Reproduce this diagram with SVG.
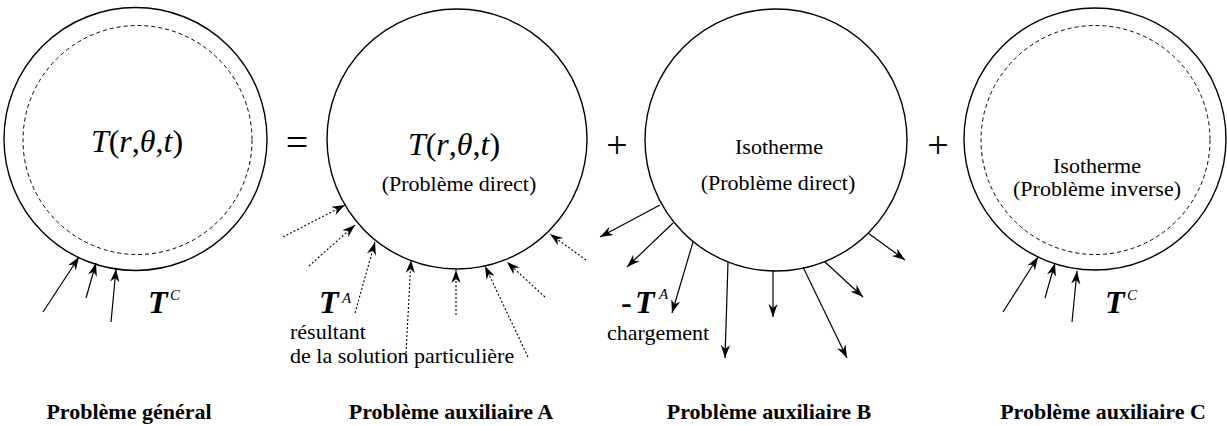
<svg xmlns="http://www.w3.org/2000/svg" width="1227" height="426" viewBox="0 0 1227 426" font-family="Liberation Serif, Times New Roman, serif">
<style>
text{fill:#000}
.outer{fill:none;stroke:#000;stroke-width:1.4}
.inner{fill:none;stroke:#000;stroke-width:1;stroke-dasharray:4 3}
.sol{stroke:#000;stroke-width:1.2;fill:none;marker-end:url(#ah)}
.dot{stroke:#000;stroke-width:1.1;fill:none;stroke-dasharray:2 2;marker-end:url(#ah)}
.lbl{font-size:22px}
.big{font-size:32px}
.bt{font-size:32px;font-weight:bold;font-style:italic}
.sup{font-size:15px;font-style:italic}
.cap{font-size:22px;font-weight:bold}
.i{font-style:italic}
</style>
<defs>
<marker id="ah" viewBox="-14 -6 15 12" refX="0" refY="0" markerWidth="15" markerHeight="12" markerUnits="userSpaceOnUse" orient="auto">
<path d="M0,0 L-13,-4.6 L-9,0 L-13,4.6 Z" fill="#000" stroke="none"/>
</marker>
</defs>

<g id="general">
<circle class="outer" cx="135.5" cy="139" r="131.5"/>
<circle class="inner" cx="137.5" cy="140" r="114.5"/>
<text class="big" x="137" y="152" text-anchor="middle"><tspan class="i">T</tspan>(<tspan class="i">r</tspan>,<tspan class="i">θ</tspan>,<tspan class="i">t</tspan>)</text>
<text class="bt" x="148" y="313">T</text>
<text class="sup" x="170" y="300">C</text>
<text class="cap" x="129" y="419" text-anchor="middle">Problème général</text>
</g>

<g id="eq">
<text x="297" y="156" font-size="40" text-anchor="middle">=</text>
</g>

<g id="auxA">
<circle class="outer" cx="457" cy="139" r="130"/>
<text class="big" x="454" y="155" text-anchor="middle"><tspan class="i">T</tspan>(<tspan class="i">r</tspan>,<tspan class="i">θ</tspan>,<tspan class="i">t</tspan>)</text>
<text class="lbl" x="459" y="191" text-anchor="middle">(Problème direct)</text>
<text class="bt" x="319" y="313">T</text>
<text class="sup" x="342" y="303">A</text>
<text class="lbl" x="290" y="339">résultant</text>
<text class="lbl" x="290" y="363">de la solution particulière</text>
<text class="cap" x="451" y="419" text-anchor="middle">Problème auxiliaire A</text>
</g>

<g id="plus1">
<text x="617" y="158" font-size="38" text-anchor="middle">+</text>
</g>

<g id="auxB">
<circle class="outer" cx="776" cy="140" r="131"/>
<text class="lbl" x="779" y="154" text-anchor="middle">Isotherme</text>
<text class="lbl" x="778" y="190" text-anchor="middle">(Problème direct)</text>
<text x="621" y="313" font-size="32" font-weight="bold">-</text>
<text class="bt" x="635" y="313">T</text>
<text class="sup" x="659" y="299">A</text>
<text class="lbl" x="607" y="340">chargement</text>
<text class="cap" x="769" y="419" text-anchor="middle">Problème auxiliaire B</text>
</g>

<g id="plus2">
<text x="938" y="158" font-size="38" text-anchor="middle">+</text>
</g>

<g id="auxC">
<circle class="outer" cx="1095" cy="139" r="131"/>
<circle class="inner" cx="1095.5" cy="140" r="114.5"/>
<text class="lbl" x="1097" y="173" text-anchor="middle">Isotherme</text>
<text class="lbl" x="1097" y="196" text-anchor="middle">(Problème inverse)</text>
<text class="bt" x="1105" y="313">T</text>
<text class="sup" x="1127" y="300">C</text>
<text class="cap" x="1103" y="419" text-anchor="middle">Problème auxiliaire C</text>
</g>

<g id="connectors">
<line class="sol" x1="43" y1="312" x2="79" y2="257"/>
<line class="sol" x1="86" y1="298" x2="96" y2="263"/>
<line class="sol" x1="111" y1="322" x2="116" y2="269"/>

<line class="dot" x1="283" y1="237" x2="345" y2="205"/>
<line class="dot" x1="309" y1="266" x2="355" y2="225"/>
<line class="dot" x1="355" y1="313" x2="375" y2="242"/>
<line class="dot" x1="406" y1="353" x2="411" y2="260"/>
<line class="dot" x1="456" y1="315" x2="456" y2="270"/>
<line class="dot" x1="528" y1="357" x2="485" y2="266"/>
<line class="dot" x1="545" y1="297" x2="507" y2="262"/>
<line class="dot" x1="586" y1="260" x2="550" y2="234"/>

<line class="sol" x1="660" y1="205" x2="600" y2="237"/>
<line class="sol" x1="673" y1="223" x2="627" y2="267"/>
<line class="sol" x1="693" y1="242" x2="672" y2="313"/>
<line class="sol" x1="728" y1="262" x2="725" y2="358"/>
<line class="sol" x1="773" y1="271" x2="773" y2="317"/>
<line class="sol" x1="803" y1="267" x2="847" y2="358"/>
<line class="sol" x1="825" y1="262" x2="863" y2="297"/>
<line class="sol" x1="868" y1="233" x2="905" y2="260"/>

<line class="sol" x1="1003" y1="312" x2="1038" y2="257"/>
<line class="sol" x1="1045" y1="298" x2="1055" y2="263"/>
<line class="sol" x1="1072" y1="322" x2="1077" y2="271"/>
</g>
</svg>
